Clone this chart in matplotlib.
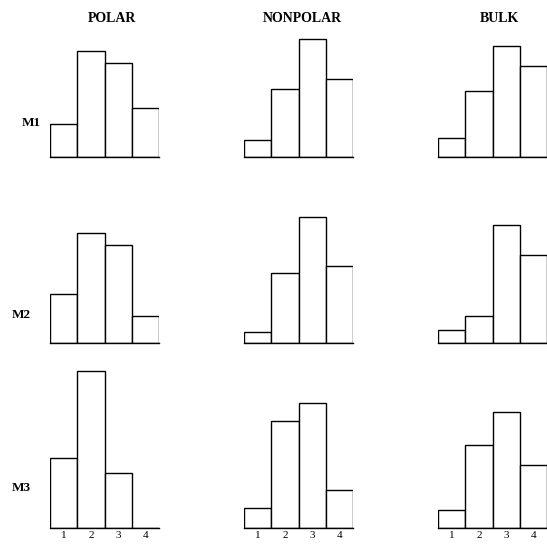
import matplotlib
matplotlib.use("Agg")
import matplotlib.pyplot as plt

# percent of residues in each class (1-4), per model and environment
columns = ["POLAR", "NONPOLAR", "BULK"]
rows = ["M1", "M2", "M3"]
classes = [1, 2, 3, 4]

polar_m1 = [11.7, 37.5, 33.2, 17.3]
nonpolar_m1 = [6.0, 24.0, 41.7, 27.6]
bulk_m1 = [6.7, 23.3, 39.2, 32.2]

polar_m2 = [17.3, 38.9, 34.6, 9.5]
nonpolar_m2 = [3.9, 24.7, 44.5, 27.2]
bulk_m2 = [4.6, 9.5, 41.7, 31.1]

polar_m3 = [24.7, 55.5, 19.4, 0.0]
nonpolar_m3 = [7.1, 37.8, 44.2, 13.4]
bulk_m3 = [6.4, 29.3, 41.0, 22.3]

data = [
    [polar_m1, nonpolar_m1, bulk_m1],
    [polar_m2, nonpolar_m2, bulk_m2],
    [polar_m3, nonpolar_m3, bulk_m3],
]

plt.rcParams["font.family"] = ["Liberation Serif", "DejaVu Serif"]

W, H = 547, 544
fig = plt.figure(figsize=(W / 100, H / 100), dpi=100)

col_left = [50, 244, 438]   # px from left
row_base = [157, 343, 528]  # px from top
ax_w, ax_h = 109, 170

for r in range(3):
    for c in range(3):
        ax = fig.add_axes([col_left[c] / W, 1 - row_base[r] / H, ax_w / W, ax_h / H])
        ax.bar(classes, data[r][c], width=1.0, color="white",
               edgecolor="black", linewidth=1.0)
        ax.set_xlim(0.5, 4.5)
        ax.set_ylim(0, 60)
        for s in ["left", "right", "top"]:
            ax.spines[s].set_visible(False)
        ax.spines["bottom"].set_linewidth(1.0)
        ax.set_yticks([])
        ax.set_xticks(classes)
        ax.tick_params(axis="x", length=0, pad=2.5, labelsize=8)
        if r < 2:
            ax.set_xticklabels([])

# column headings
title_x = [112, 302, 499]
for c, name in enumerate(columns):
    fig.text(title_x[c] / W, 1 - 19 / H, name, ha="center", va="center",
             fontsize=10, fontweight="bold")

# row labels
label_x = [22, 12, 12]
label_y = [123, 315, 488]
for r, name in enumerate(rows):
    fig.text(label_x[r] / W, 1 - label_y[r] / H, name, ha="left", va="center",
             fontsize=9.5, fontweight="bold")

fig.savefig("out.png", dpi=100, facecolor="white")
